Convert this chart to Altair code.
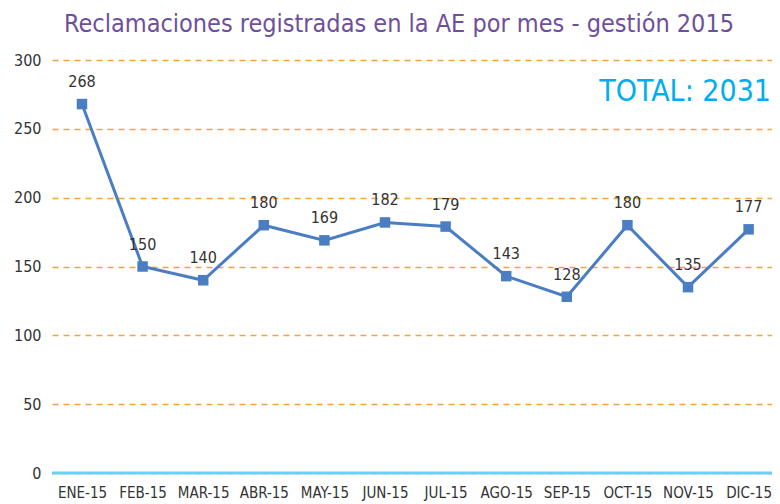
import altair as alt
import pandas as pd

months = ["ENE-15", "FEB-15", "MAR-15", "ABR-15", "MAY-15", "JUN-15",
          "JUL-15", "AGO-15", "SEP-15", "OCT-15", "NOV-15", "DIC-15"]
values = [268, 150, 140, 180, 169, 182, 179, 143, 128, 180, 135, 177]
total_label = ["TOTAL: 2031"]

df = pd.DataFrame({"idx": list(range(len(months))), "mes": months, "valor": values})

FONT = "'DejaVu Sans Condensed', 'Liberation Sans Narrow', Roboto, sans-serif"
LINE = "#4A7DC2"

label_expr = "[" + ",".join("'%s'" % m for m in months) + "][datum.value]"

x = alt.X("idx:Q", title=None,
          scale=alt.Scale(domain=[-0.495, 11.386], nice=False, zero=False),
          axis=alt.Axis(values=list(range(len(months))), labelExpr=label_expr,
                        domain=False, ticks=False, labelAngle=0, labelFontSize=15,
                        labelFont=FONT, labelColor="#333333", labelPadding=12, grid=False,
                        labelFlush=False, labelOverlap=False))
y = alt.Y("valor:Q", title=None,
          scale=alt.Scale(domain=[0, 300]),
          axis=alt.Axis(values=[0, 50, 100, 150, 200, 250, 300], domain=False, ticks=False,
                        labelFontSize=16, labelFont=FONT, labelColor="#333333", labelPadding=11,
                        grid=True, gridColor="#F7A23A", gridDash=[6, 5], gridWidth=1.5))

base = alt.Chart(df)
line = base.mark_line(color=LINE, strokeWidth=3).encode(x=x, y=y)
pts = base.mark_square(color=LINE, size=110, opacity=1).encode(x=x, y=y)
labels = base.mark_text(dy=-22, fontSize=16, font=FONT, color="#333333").encode(
    x=x, y=y, text="valor:Q")
zero = alt.Chart(pd.DataFrame({"v": [0]})).mark_rule(color="#6DCFF6", strokeWidth=3).encode(
    y=alt.Y("v:Q"))
total = alt.Chart(pd.DataFrame({"t": total_label})).mark_text(
    align="right", baseline="middle", fontSize=30, font=FONT, color="#00AEEF").encode(
    text="t:N", x=alt.value(719), y=alt.value(32))

chart = alt.layer(zero, line, pts, labels, total).properties(
    width=720, height=413,
    autosize=alt.AutoSizeParams(type="none"),
    padding={"left": 44, "top": 52, "right": 0, "bottom": 30},
    title=alt.TitleParams("Reclamaciones registradas en la AE por mes - gestión 2015",
                          font=FONT, fontSize=25, fontWeight="normal", color="#6E4F9B",
                          anchor="middle", offset=15, dx=-13),
).configure_view(stroke=None)

chart.save("out.html", embed_options={"renderer": "svg", "actions": False})
